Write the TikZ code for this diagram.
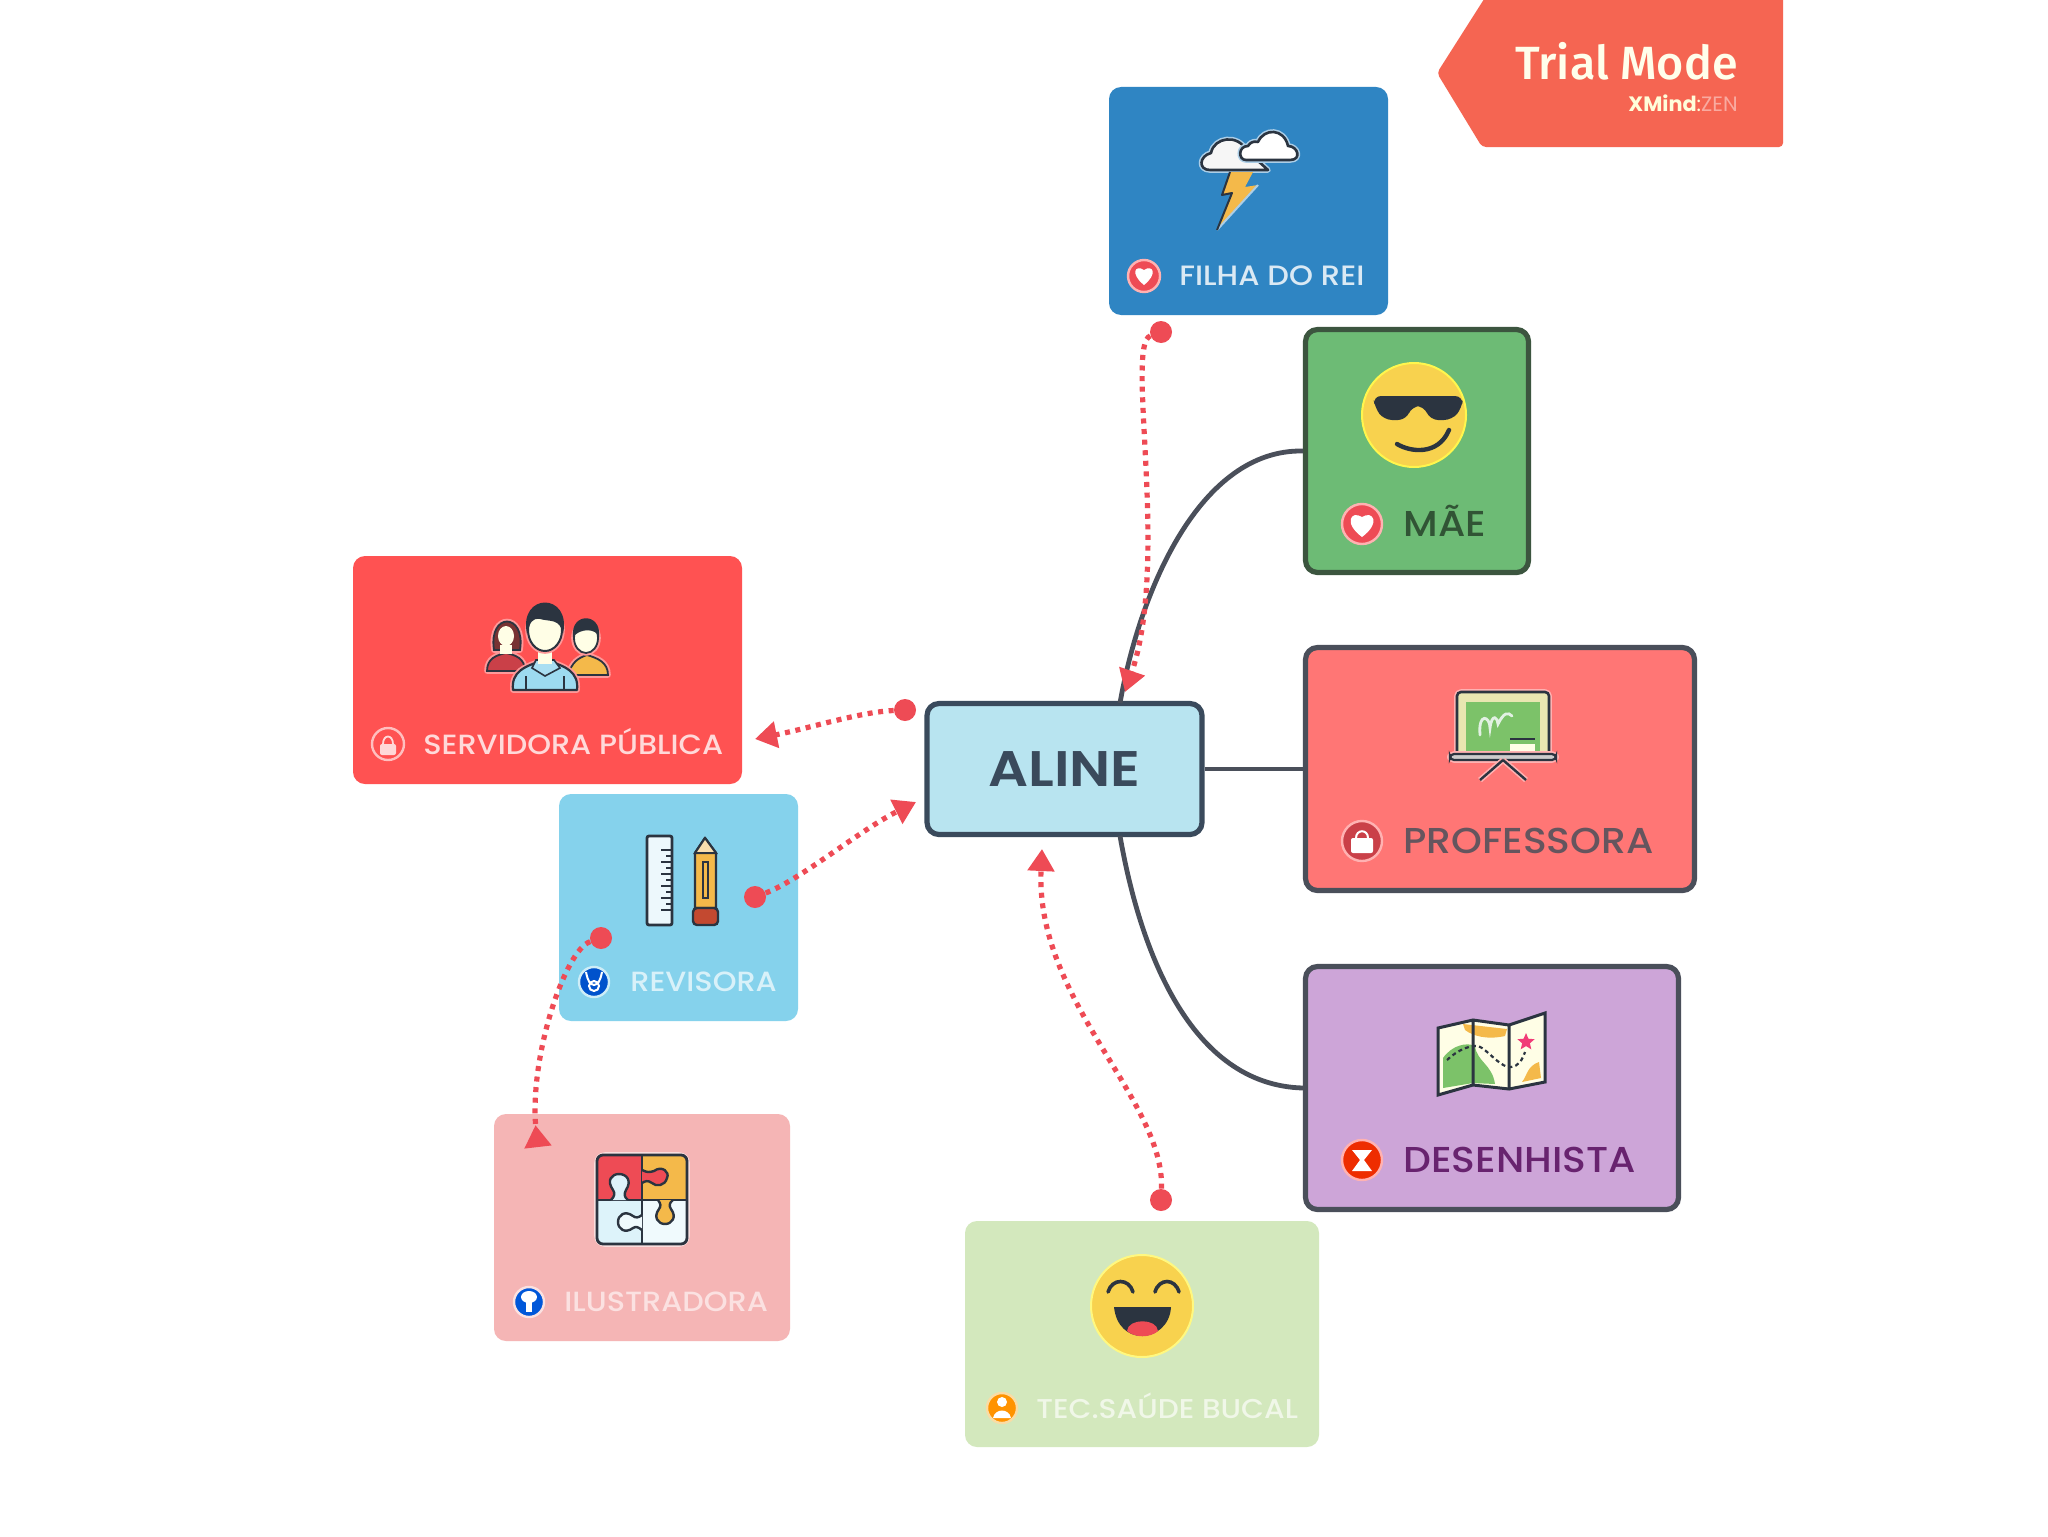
\documentclass[tikz,border=0pt]{standalone}
\usepackage{fontspec}
\usetikzlibrary{arrows.meta,shapes.geometric}
\setmainfont{Poppins}
\newfontfamily\labfont[FakeStretch=1.09]{Poppins Medium}
\newfontfamily\titlefont[FakeStretch=1.12]{Poppins SemiBold}
\newfontfamily\trialfont{Fira Sans Medium}
\definecolor{cFilha}{HTML}{2F85C3}
\definecolor{cMae}{HTML}{6DBB75}
\definecolor{cProf}{HTML}{FF7675}
\definecolor{cDes}{HTML}{CDA5D8}
\definecolor{cServ}{HTML}{FF5252}
\definecolor{cRev}{HTML}{85D2EC}
\definecolor{cIlu}{HTML}{F5B5B5}
\definecolor{cTec}{HTML}{D3E8BD}
\definecolor{cAline}{HTML}{B8E4F0}
\definecolor{cTrial}{HTML}{F56552}
\definecolor{cLine}{HTML}{4A4F5A}
\definecolor{cRel}{HTML}{EE4B55}
\definecolor{cInk}{HTML}{2B3440}
\definecolor{cYel}{HTML}{F8D24E}
\definecolor{cOrg}{HTML}{F4B94A}
\definecolor{cAlineInk}{HTML}{3A4A5C}
\tikzset{
  card/.style={rectangle,rounded corners=6pt,inner sep=0pt},
  outlined/.style={card,line width=2.6pt},
  lab/.style={anchor=west,inner sep=0pt,font=\labfont\fontsize{#1}{#1}\selectfont},
  badge/.style={circle,inner sep=0pt,line width=1.2pt},
  branch/.style={draw=cLine,line width=2.4pt},
  rel/.style={draw=cRel,line width=2.6pt,dash pattern=on 2.5pt off 2.8pt,-{Triangle[length=11pt,width=13pt,fill=cRel]}},
  relback/.style={draw=cRel,line width=2.6pt,dash pattern=on 2.5pt off 2.8pt,-{Triangle[reversed,length=11pt,width=13pt,fill=cRel]}},
  reldot/.style={circle,fill=cRel,inner sep=0pt,minimum size=11pt},
  halo/.style={preaction={draw=#1,line width=2.8pt,line join=round}},
  piece/.style={draw=cInk,line width=1.2pt,line join=round},
}
\begin{document}
\begin{tikzpicture}[x=0.5pt,y=-0.5pt]
\useasboundingbox (0,0) rectangle (2048,1536);
\fill[white] (0,0) rectangle (2048,1536);

% Trial banner
\fill[cTrial,rounded corners=2pt] (1486,-4) -- (1437,73) -- (1482,147) -- (1783,147) -- (1783,-4) -- cycle;
\node[anchor=east,inner sep=0pt,text=white!92!yellow,font=\trialfont\fontsize{23.3}{24}\selectfont] (trial) at (1738,61) {Trial Mode};
\node[anchor=east,inner sep=0pt,font=\fontsize{10.4}{11}\selectfont] (xmind) at (1738,103) {\textcolor{white!85!yellow}{\textbf{XMind}:}\textcolor{white!45!cTrial}{ZEN}};

% Cards
\node[card,fill=cFilha,minimum width=139.5pt,minimum height=114pt] (filha) at (1248.5,201) {};
\node[outlined,fill=cMae,draw=black!60!cMae!80!gray,minimum width=111.5pt,minimum height=121.5pt] (mae) at (1417,451) {};
\node[outlined,fill=cProf,draw=cLine,minimum width=194.5pt,minimum height=121.5pt] (prof) at (1500,769) {};
\node[outlined,fill=cDes,draw=cLine,minimum width=186.5pt,minimum height=121.5pt] (des) at (1492,1088) {};
\node[card,fill=cServ,minimum width=194.5pt,minimum height=114pt] (serv) at (547.5,670) {};
\node[card,fill=cRev,minimum width=119.5pt,minimum height=113.5pt] (rev) at (678.5,907.5) {};
\node[card,fill=cIlu,minimum width=148pt,minimum height=113.5pt] (ilu) at (642,1227.5) {};
\node[card,fill=cTec,minimum width=177pt,minimum height=113pt] (tec) at (1142,1334) {};
\node[outlined,fill=cAline,draw=cAlineInk,minimum width=137.5pt,minimum height=65.5pt,
      text=cAlineInk,font=\titlefont\fontsize{25}{25}\selectfont] (aline) at (1064.5,769) {ALINE};

% Labels
\node[lab=14.0,text=white!82!cFilha] (tfilha) at (1179,276) {FILHA DO REI};
\node[lab=18,text=black!55!cMae] (tmae) at (1403,521) {MÃE};
\node[lab=18,text=cLine!85!cProf] (tprof) at (1403,841) {PROFESSORA};
\node[lab=18,text=violet!55!cLine] (tdes) at (1403,1160) {DESENHISTA};
\node[lab=13.9,text=white!78!cServ] (tserv) at (423,742) {SERVIDORA PÚBLICA};
\node[lab=13.9,text=white!68!cRev] (trev) at (630,982) {REVISORA};
\node[lab=13.9,text=white!60!cIlu] (tilu) at (564,1302) {ILUSTRADORA};
\node[lab=13.6,text=white!65!cTec] (ttec) at (1036,1406) {TEC.SAÚDE BUCAL};

% Badges
\node[badge,draw=white!70!red,fill=cRel,minimum size=16pt] (bfilha) at (1144,276) {};
\node[badge,draw=white!70!red,fill=cRel,minimum size=20pt] (bmae) at (1362,524) {};
\node[badge,draw=white!70!red,fill=black!15!cRel,minimum size=20pt] (bprof) at (1362,841) {};
\node[badge,draw=white!70!red,fill=black!10!red!65!orange,minimum size=20pt] (bdes) at (1362,1160) {};
\node[badge,draw=white!75!red,fill=cServ,minimum size=16pt] (bserv) at (388,744) {};
\node[badge,draw=white!60!cRev,fill=blue!60!cyan!80!black,minimum size=15pt] (brev) at (594,982) {};
\node[badge,draw=white!60!cIlu,fill=blue!60!cyan!85!black,minimum size=15pt] (bilu) at (529,1302) {};
\node[badge,draw=white!50!cOrg,fill=orange!85!yellow,minimum size=15pt] (btec) at (1002,1408) {};
% badge glyphs
\fill[white] (1144,285) .. controls (1130,274) and (1135,264) .. (1144,270) .. controls (1153,264) and (1158,274) .. (1144,285) -- cycle;
\fill[white] (1362,537) .. controls (1343,523) and (1351,510) .. (1362,517) .. controls (1373,510) and (1381,523) .. (1362,537) -- cycle;
\fill[white,rounded corners=1pt] (1351,838) rectangle (1373,853);
\draw[white,line width=1pt] (1356,838) .. controls (1356,829) and (1368,829) .. (1368,838);
\fill[white] (1352,1150) -- (1372,1150) -- (1364,1160) -- (1372,1171) -- (1352,1171) -- (1360,1160) -- cycle;
\fill[white!85!red,rounded corners=1pt] (380,744) rectangle (396,755);
\draw[white!85!red,line width=.9pt] (383,744) .. controls (383,734) and (393,734) .. (393,744);
\draw[white,line width=1pt] (586,972) .. controls (588,982) and (590,984) .. (594,985) .. controls (598,984) and (600,982) .. (602,972);
\draw[white,line width=1pt] (594,986) circle [radius=5];
\fill[white] (529,1297) ellipse [x radius=8,y radius=6];
\fill[white] (526,1300) rectangle (532,1312);
\fill[white] (1002,1402) circle [radius=5];
\fill[white] (993,1418) .. controls (995,1408) and (1009,1408) .. (1011,1418) -- cycle;

% Icon: storm
\filldraw[draw=cInk,line width=1.3pt,fill=white!93!gray,line join=round,halo=white!60!cFilha] (1210,170) .. controls (1198,170) and (1199,156) .. (1211,153) .. controls (1214,137) and (1238,134) .. (1246,150) -- (1268,170) -- cycle;
\filldraw[draw=cInk,line width=1.3pt,fill=white,line join=round,halo=white!60!cFilha] (1246,160) .. controls (1238,160) and (1238,146) .. (1248,146) .. controls (1252,140) and (1256,142) .. (1258,142) .. controls (1264,128) and (1284,128) .. (1288,146) .. controls (1298,146) and (1302,160) .. (1290,160) -- cycle;
\fill[cOrg] (1230,172) -- (1222,195) -- (1232,193) -- (1217,230) -- (1258,185) -- (1245,187) -- (1253,172) -- cycle;
\draw[white!60!cFilha,line width=1pt] (1217,230) -- (1258,185);
\draw[cInk,line width=1pt,line join=round] (1230,172) -- (1222,195) -- (1232,193) -- (1217,230);

% Icon: cool face
\fill[cYel,draw=yellow!70!white,line width=1pt] (1414,415) circle [radius=52];
\fill[cInk,rounded corners=4pt] (1373,396) -- (1463,396) -- (1462,408) -- (1452,420) -- (1430,420) -- (1424,406) -- (1412,406) -- (1406,420) -- (1384,420) -- (1375,408) -- cycle;
\draw[cInk,line width=2.2pt,line cap=round] (1397,444) .. controls (1410,452) and (1438,456) .. (1449,430);

% Icon: people
\filldraw[fill=cRel!85!black,draw=cInk,line width=.9pt,halo=white!60!red] (487,671) .. controls (487,658) and (497,655) .. (506,653) .. controls (515,655) and (525,658) .. (525,671) -- cycle;
\filldraw[fill=red!45!black!60!gray,draw=cInk,line width=.9pt,halo=white!60!red] (494,650) .. controls (488,612) and (526,612) .. (520,650) -- cycle;
\fill[white!90!yellow] (506,636) ellipse [x radius=8,y radius=10];
\fill[white!90!yellow] (500,645) rectangle (512,654);
\filldraw[fill=cOrg,draw=cInk,line width=.9pt,halo=white!60!red] (568,675) .. controls (572,662) and (578,658) .. (587,655) .. controls (597,658) and (608,662) .. (608,675) -- cycle;
\filldraw[fill=white!90!yellow,draw=cInk,line width=.9pt,halo=white!60!red] (586,638) ellipse [x radius=12,y radius=15];
\fill[cInk] (573,637) .. controls (570,612) and (602,612) .. (599,637) .. controls (596,628) and (580,628) .. (573,637) -- cycle;
\filldraw[fill=white!20!cRev,draw=cInk,line width=1.1pt,line join=round,halo=white!60!red] (513,690) .. controls (511,672) and (524,666) .. (545,660) .. controls (566,666) and (579,672) .. (577,690) -- cycle;
\filldraw[fill=white!30!cRev,draw=cInk,line width=.8pt] (532,668) -- (545,676) -- (560,668) -- (554,660) -- (536,660) -- cycle;
\fill[white!90!yellow] (538,648) rectangle (552,664);
\filldraw[fill=white!90!yellow,draw=cInk,line width=1pt,halo=white!60!red] (545,630) ellipse [x radius=17,y radius=21];
\fill[cInk] (527,634) .. controls (518,592) and (572,592) .. (563,634) .. controls (560,618) and (550,622) .. (540,619) .. controls (532,618) and (530,622) .. (527,634) -- cycle;
\draw[cInk,line width=.9pt] (526,690) -- (526,676) (564,690) -- (564,676);

% Icon: board
\filldraw[fill=white!70!yellow!80!gray,draw=cInk,line width=1.3pt,rounded corners=2pt,halo=white!70!red] (1457,692) rectangle (1549,755);
\fill[cMae!90!yellow] (1466,702) rectangle (1540,753);
\draw[white!80!cMae,line width=1.4pt,line cap=round] (1480,735) .. controls (1478,712) and (1490,716) .. (1490,728) .. controls (1492,712) and (1498,718) .. (1498,724) .. controls (1504,712) and (1508,712) .. (1512,716);
\fill[white!90!yellow] (1510,744) rectangle (1535,753);
\draw[cInk,line width=1.1pt] (1510,739) -- (1535,739);
\filldraw[fill=white!60!gray,draw=cInk,line width=1.1pt,rounded corners=2pt,halo=white!70!red] (1450,754) rectangle (1556,760);
\draw[cInk,line width=1.2pt,halo=white!70!red] (1503,760) -- (1480,780) (1503,760) -- (1526,780);

% Icon: map
\begin{scope}[xshift=-1.5pt]
\fill[white!90!yellow] (1441,1028) -- (1476,1020) -- (1512,1025) -- (1548,1013) -- (1548,1082) -- (1512,1089) -- (1476,1085) -- (1441,1095) -- cycle;
\fill[cOrg] (1466,1024) -- (1510,1029) -- (1508,1036) .. controls (1490,1040) and (1476,1036) .. (1468,1030) -- cycle;
\fill[cMae!90!yellow] (1446,1058) .. controls (1455,1045) and (1470,1042) .. (1478,1046) .. controls (1480,1062) and (1495,1064) .. (1498,1084) -- (1476,1083) -- (1446,1088) -- cycle;
\fill[cOrg] (1542,1062) .. controls (1530,1066) and (1530,1076) .. (1525,1082) -- (1544,1078) -- cycle;
\draw[cInk,line width=1.1pt,dash pattern=on 2pt off 1.6pt] (1450,1060) .. controls (1460,1050) and (1478,1042) .. (1485,1048) .. controls (1495,1055) and (1505,1068) .. (1514,1067) .. controls (1522,1066) and (1525,1060) .. (1528,1052);
\node[star,star points=5,star point ratio=2.2,fill=cRel!80!magenta,inner sep=0pt,minimum size=9pt] (mapstar) at (1529,1042) {};
\draw[cInk,line width=1.5pt,line join=miter] (1441,1028) -- (1476,1020) -- (1512,1025) -- (1548,1013) -- (1548,1082) -- (1512,1089) -- (1476,1085) -- (1441,1095) -- cycle (1476,1020) -- (1476,1085) (1512,1025) -- (1512,1089);
\end{scope}

% Icon: ruler and pencil
\fill[white!85!cRev,draw=cInk,line width=1.4pt,rounded corners=1pt] (647,836) rectangle (672,925);
\foreach \yy in {850,862,874,886,898,910} {\draw[cInk,line width=.8pt] (672,\yy) -- (661,\yy);}
\foreach \yy in {856,868,880,892,904} {\draw[cInk,line width=.7pt] (672,\yy) -- (666,\yy);}
\fill[cOrg,draw=cInk,line width=1.2pt,line join=round] (695,853) -- (705,838) -- (716,853) -- (716,908) -- (695,908) -- cycle;
\fill[white!55!cOrg,draw=cInk,line width=1pt] (695,853) -- (705,838) -- (716,853) -- cycle;
\draw[cInk,line width=.9pt] (703,862) rectangle (708,898);
\fill[cRel!70!orange!80!black,draw=cInk,line width=1.2pt,rounded corners=2pt] (693,908) rectangle (718,925);

% Icon: puzzle
\draw[white!55!cIlu,line width=2.8pt,rounded corners=4pt] (597,1155) rectangle (687,1244);
\begin{scope}
\clip[rounded corners=3pt] (597,1155) rectangle (687,1244);
\fill[cRel] (597,1155) rectangle (642,1200);
\fill[cOrg] (642,1155) rectangle (687,1200);
\fill[white!72!cRev] (597,1200) rectangle (642,1244);
\fill[white!88!cRev] (642,1200) rectangle (687,1244);
\end{scope}
\draw[cInk,line width=1.4pt,rounded corners=3pt] (597,1155) rectangle (687,1244);
\draw[cInk,line width=1.2pt] (642,1155) -- (642,1244) (597,1200) -- (687,1200);
\filldraw[fill=cRel,piece] (642,1170) .. controls (648,1173) and (650,1172) .. (654,1171) .. controls (662,1165) and (670,1172) .. (667,1178) .. controls (665,1186) and (656,1187) .. (652,1183) .. controls (648,1180) and (645,1181) .. (642,1183);
\filldraw[fill=white!72!cRev,piece] (611,1200) .. controls (615,1196) and (615,1193) .. (613,1190) .. controls (606,1180) and (612,1174) .. (619,1174) .. controls (627,1174) and (632,1181) .. (626,1190) .. controls (624,1194) and (624,1197) .. (628,1200);
\filldraw[fill=cOrg,piece] (658,1200) .. controls (661,1204) and (661,1206) .. (659,1209) .. controls (653,1217) and (658,1224) .. (665,1224) .. controls (672,1224) and (677,1217) .. (671,1209) .. controls (669,1206) and (669,1203) .. (673,1200);
\filldraw[fill=white!88!cRev,piece] (642,1215) .. controls (638,1218) and (636,1218) .. (633,1216) .. controls (625,1210) and (618,1215) .. (618,1222) .. controls (618,1229) and (625,1234) .. (633,1228) .. controls (636,1226) and (638,1227) .. (642,1230);

% Icon: laughing face
\fill[cYel,draw=yellow!50!white,line width=1pt] (1142,1306) circle [radius=51];
\draw[cInk,line width=1.8pt,line cap=round] (1108,1292) .. controls (1112,1278) and (1129,1278) .. (1133,1292) (1155,1292) .. controls (1159,1278) and (1175,1278) .. (1179,1292);
\fill[cInk] (1114,1307) -- (1171,1307) .. controls (1170,1326) and (1155,1336) .. (1142,1336) .. controls (1128,1336) and (1116,1326) .. (1114,1307) -- cycle;
\fill[cRel] (1127,1331) .. controls (1128,1318) and (1157,1318) .. (1158,1331) .. controls (1150,1338) and (1135,1338) .. (1127,1331) -- cycle;

% Solid branches
\coordinate (alineN) at (1120,703);
\coordinate (alineS) at (1120,836);
\draw[branch] (alineN) .. controls (1140,590) and (1200,449) .. (mae.west);
\draw[branch] (aline.east) -- (prof.west);
\draw[branch] (alineS) .. controls (1140,950) and (1190,1085) .. (des.west);

% Dotted relationships
\node[reldot] (d1) at (1161,332) {};
\node[reldot] (d2) at (905,710) {};
\node[reldot] (d3) at (755,897) {};
\node[reldot] (d4) at (601,938) {};
\node[reldot] (d5) at (1161,1200) {};
\coordinate (e1) at (1125,692);
\coordinate (e2) at (755,739);
\coordinate (e3) at (916,802);
\coordinate (e4) at (538,1147);
\coordinate (e5) at (1042,849);
\draw[rel] (d1) .. controls (1125,345) and (1170,560) .. (e1);
\draw[rel] (d2) .. controls (860,712) and (810,728) .. (e2);
\draw[rel] (d3) .. controls (800,880) and (860,830) .. (e3);
\draw[relback] (d4) .. controls (565,950) and (528,1060) .. (e4);
\draw[rel] (d5) .. controls (1165,1100) and (1035,1000) .. (e5);
\end{tikzpicture}
\end{document}
